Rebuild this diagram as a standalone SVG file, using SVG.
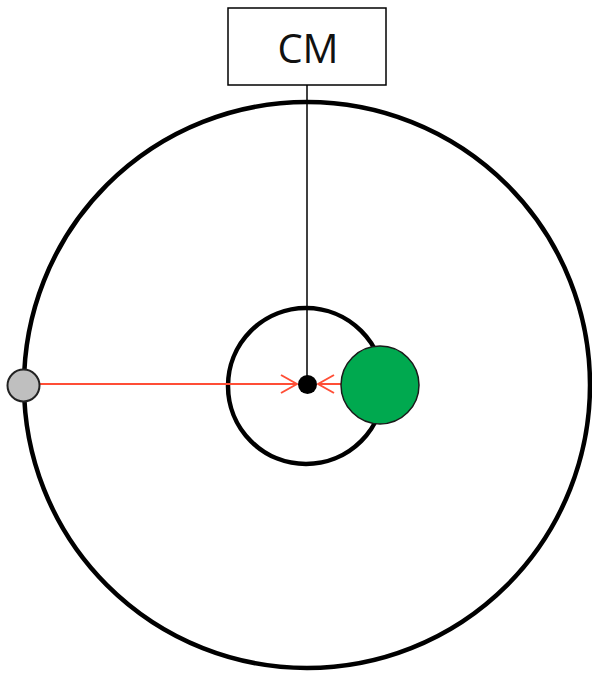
<svg xmlns="http://www.w3.org/2000/svg" width="592" height="675" viewBox="0 0 592 675">
<style>
.orbit{fill:none;stroke:#000;stroke-width:4.5}
.red{stroke:#FF4E36;stroke-width:2;fill:none}
</style>
<defs>
<marker id="ah" viewBox="0 0 18 20" refX="17" refY="10" markerWidth="18" markerHeight="20" markerUnits="userSpaceOnUse" orient="auto">
<path d="M1,1 L17,10 L1,19" fill="none" stroke="#FF4E36" stroke-width="2"/>
</marker>
</defs>
<rect width="592" height="675" fill="#fff"/>
<g id="big-orbit"><circle class="orbit" cx="307" cy="385" r="283"/></g>
<g id="small-orbit"><circle class="orbit" cx="306" cy="386" r="78"/></g>
<g id="cm-label">
<rect x="228" y="8" width="158" height="77" fill="#fff" stroke="#000" stroke-width="1.5"/>
<text x="308" y="63" font-family="Open Sans, Liberation Sans, sans-serif" font-size="40" text-anchor="middle" fill="#111">CM</text>
</g>
<g id="connectors">
<line x1="307" y1="85" x2="307" y2="384" stroke="#000" stroke-width="1.5"/>
<line class="red" x1="40" y1="384" x2="297" y2="384" marker-end="url(#ah)"/>
<line class="red" x1="341" y1="384" x2="318" y2="384" marker-end="url(#ah)"/>
</g>
<g id="green-body"><circle cx="380" cy="385" r="39" fill="#00A94F" stroke="#1a1a1a" stroke-width="1.5"/></g>
<g id="cm-point"><circle cx="307.5" cy="384.5" r="9.5" fill="#000"/></g>
<g id="gray-body"><circle cx="23.5" cy="385.5" r="16" fill="#BFBFBF" stroke="#222" stroke-width="2"/></g>
</svg>
